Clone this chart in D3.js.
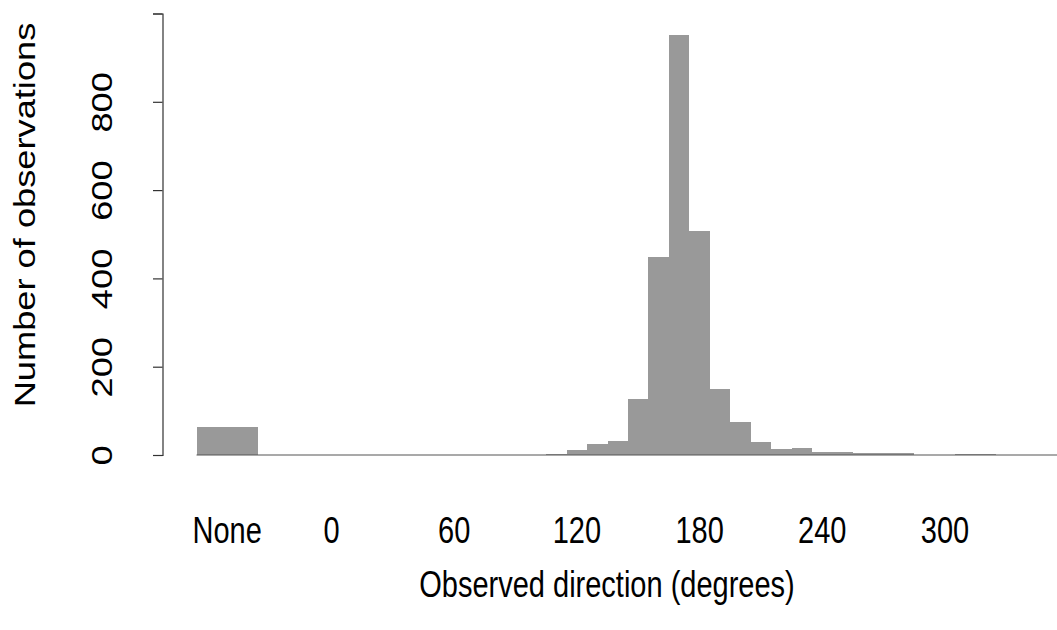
<!DOCTYPE html>
<html>
<head>
<meta charset="utf-8">
<script src="https://cdn.jsdelivr.net/npm/d3@7"></script>
<style>
  html, body { margin: 0; padding: 0; background: #fff; }
  svg { display: block; }
  text { font-family: "Liberation Sans", Arial, sans-serif; fill: #000; }
</style>
</head>
<body>
<svg id="chart" width="1057" height="630"></svg>
<script>
// Direction bins (degrees, centre of each 10-degree bin) and their counts
const directions = [0, 10, 20, 30, 40, 50, 60, 70, 80, 90, 100, 110, 120, 130, 140, 150, 160, 170,
                    180, 190, 200, 210, 220, 230, 240, 250, 260, 270, 280, 290, 300, 310, 320, 330, 340, 350];
const counts = [0, 0, 0, 0, 0, 0, 0, 0, 0, 0, 0, 2, 11, 25, 32, 127, 448, 951,
                507, 150, 74, 29, 13, 16, 7, 7, 4, 4, 4, 1, 1, 2, 2, 1, 1, 0];
// Observations with no direction recorded
const noneLabel = "None";
const noneCount = 63;
// Axis tick values
const xTickLabels = ["0", "60", "120", "180", "240", "300"];
const yTicks = [0, 200, 400, 600, 800, 1000];
const yTickLabels = [0, 200, 400, 600, 800];

const svg = d3.select("#chart");

const binWidth = 10;
const nonePos = -51;      // where the "None" bar sits on the degree axis
const noneWidth = 30;
const fontSize = 29;
const stretch = 1.25;     // glyphs are drawn taller than wide

const x = d3.scaleLinear().domain([0, 300]).range([331.5, 945]);
const y = d3.scaleLinear().domain([0, 1000]).range([455, 13.5]);

const barColor = "#999999";

const bars = svg.append("g").attr("shape-rendering", "crispEdges");

// "None" bar
bars.append("rect")
  .attr("x", x(nonePos - noneWidth / 2))
  .attr("y", y(noneCount))
  .attr("width", x(nonePos + noneWidth / 2) - x(nonePos - noneWidth / 2))
  .attr("height", y(0) - y(noneCount))
  .attr("fill", barColor);

// Direction bars
const bins = directions.map((d, i) => ({ d, c: counts[i] }));
bars.selectAll("rect.bin")
  .data(bins)
  .join("rect")
  .attr("class", "bin")
  .attr("x", b => x(b.d - binWidth / 2))
  .attr("y", b => y(b.c))
  .attr("width", b => x(b.d + binWidth / 2) - x(b.d - binWidth / 2))
  .attr("height", b => y(0) - y(b.c))
  .attr("fill", barColor);

// Baseline under the bars
svg.append("line")
  .attr("x1", x(nonePos - noneWidth / 2))
  .attr("x2", x(directions[directions.length - 1] + binWidth / 2))
  .attr("y1", y(0))
  .attr("y2", y(0))
  .attr("stroke", "#555")
  .attr("stroke-width", 1.2);

// Y axis
const yAxis = d3.axisLeft(y)
  .tickValues(yTicks)
  .tickSize(9.5)
  .tickFormat(v => yTickLabels.includes(v) ? String(v) : "");
const gy = svg.append("g")
  .attr("transform", "translate(162.5,0)")
  .call(yAxis);
gy.select(".domain").attr("stroke", "#333").attr("stroke-width", 1.2);
gy.selectAll(".tick line").attr("stroke", "#333").attr("stroke-width", 1.2);
gy.selectAll(".tick text")
  .attr("font-size", fontSize)
  .attr("font-family", "Liberation Sans, Arial, sans-serif")
  .attr("fill", "#000")
  .attr("text-anchor", "middle")
  .attr("x", null)
  .attr("dy", null)
  .attr("transform", `translate(-51,0) scale(1,${stretch}) rotate(-90)`);

// X tick labels (no tick marks)
const xLabelData = [{ t: noneLabel, v: nonePos }].concat(xTickLabels.map(t => ({ t, v: +t })));
svg.append("g").selectAll("text")
  .data(xLabelData)
  .join("text")
  .attr("transform", d => `translate(${x(d.v)},543) scale(1,${stretch})`)
  .attr("text-anchor", "middle")
  .attr("font-size", fontSize)
  .text(d => d.t);

// Axis titles
svg.append("text")
  .attr("transform", `translate(607,597) scale(1,${stretch})`)
  .attr("text-anchor", "middle")
  .attr("font-size", fontSize)
  .text("Observed direction (degrees)");

svg.append("text")
  .attr("transform", `translate(35,215) scale(1,${stretch}) rotate(-90)`)
  .attr("text-anchor", "middle")
  .attr("font-size", fontSize)
  .text("Number of observations");
</script>
</body>
</html>
